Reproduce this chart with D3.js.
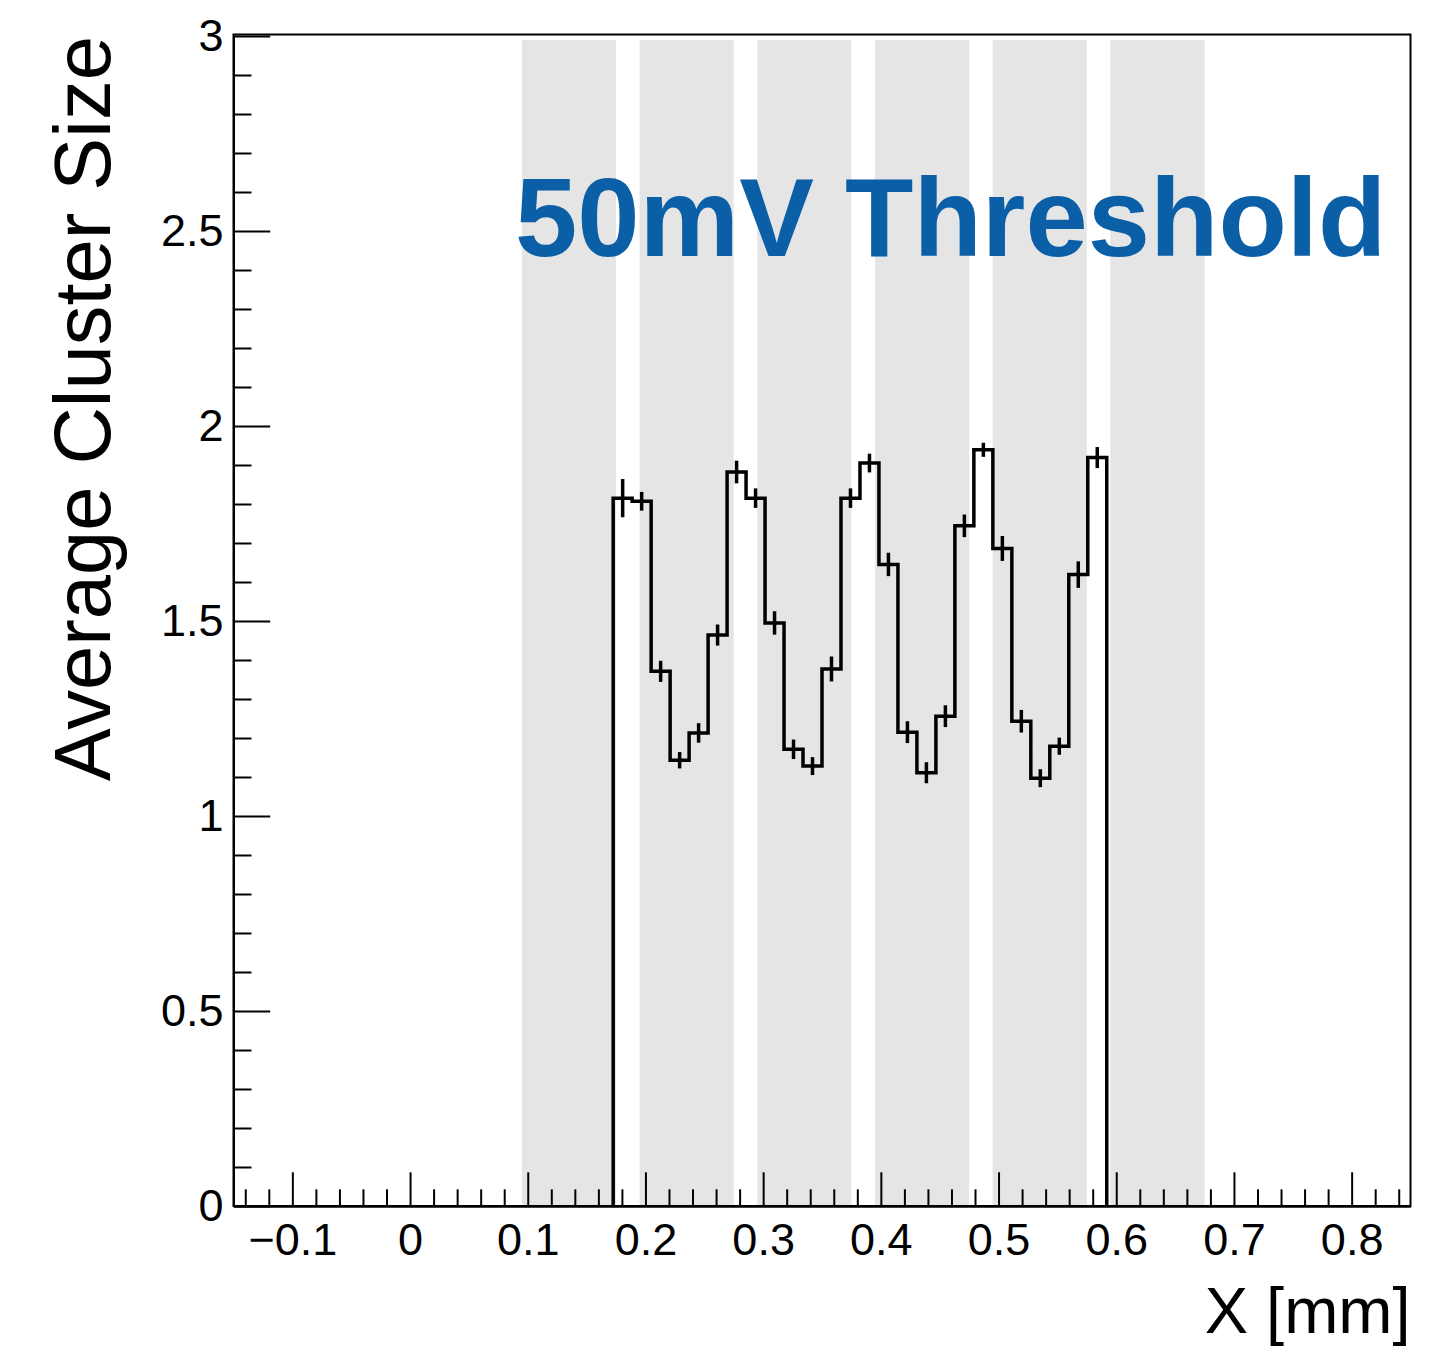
<!DOCTYPE html>
<html lang="en">
<head>
    <meta charset="UTF-8">
    <title>Average Cluster Size vs X</title>
    <script src="https://d3js.org/d3.v7.min.js"></script>
    <style>
        body {
            margin: 0;
            padding: 0;
            background: #ffffff;
            font-family: 'Liberation Sans', Arial, Helvetica, sans-serif;
        }
        .axis text {
            font-family: 'Liberation Sans', Arial, Helvetica, sans-serif;
            font-size: 45px;
            fill: #000;
        }
        .axis path, .axis line {
            stroke: #000;
            stroke-width: 2;
        }
    </style>
</head>
<body>
    <div id="chart"></div>

    <script>
        // histogram binning: 62 bins over the full x range, only bins 20..45 filled
        const xMin = -0.15;
        const xMax = 0.85;
        const nBins = 62;
        const firstBin = 20;

        const clusterSize = [
            1.815, 1.807, 1.371, 1.143, 1.213, 1.464, 1.882, 1.815, 1.495, 1.171,
            1.128, 1.377, 1.815, 1.905, 1.645, 1.215, 1.111, 1.256, 1.744, 1.939,
            1.686, 1.243, 1.097, 1.179, 1.619, 1.919
        ];
        const clusterErr = [
            0.049, 0.024, 0.027, 0.021, 0.025, 0.027, 0.029, 0.025, 0.030, 0.025,
            0.023, 0.032, 0.025, 0.024, 0.030, 0.028, 0.027, 0.028, 0.029, 0.018,
            0.032, 0.029, 0.023, 0.022, 0.034, 0.027
        ];

        // shaded pixel regions
        const bandStarts = [0.095, 0.195, 0.295, 0.395, 0.495, 0.595];
        const bandWidth = 0.08;
        const bandTop = 2.99;

        const xTicks = [-0.1, 0, 0.1, 0.2, 0.3, 0.4, 0.5, 0.6, 0.7, 0.8];
        const yTicks = [0, 0.5, 1, 1.5, 2, 2.5, 3];

        const W = 1454, H = 1347;
        const mLeft = 233.5, mRight = 1410.5, mTop = 36, mBottom = 1206;

        const x = d3.scaleLinear().domain([xMin, xMax]).range([mLeft, mRight]);
        const y = d3.scaleLinear().domain([0, 3]).range([mBottom, mTop]);

        const svg = d3.select("#chart").append("svg")
            .attr("width", W)
            .attr("height", H);

        // gray bands
        svg.append("g").selectAll("rect")
            .data(bandStarts)
            .enter().append("rect")
            .attr("x", d => x(d))
            .attr("width", d => x(d + bandWidth) - x(d))
            .attr("y", y(bandTop))
            .attr("height", y(0) - y(bandTop))
            .attr("fill", "#e5e5e5");

        // frame
        svg.append("rect")
            .attr("x", mLeft)
            .attr("y", mTop - 1.5)
            .attr("width", mRight - mLeft)
            .attr("height", mBottom - mTop + 1.5)
            .attr("fill", "none")
            .attr("stroke", "#000")
            .attr("stroke-width", 2);

        const fmt = d3.format("~g");

        // x axis: major + minor ticks pointing up
        const minorX = d3.range(-0.14, 0.85, 0.02).filter(v => Math.abs(Math.round(v * 10) - v * 10) > 1e-6);
        svg.append("g")
            .attr("class", "axis")
            .attr("transform", `translate(0,${mBottom})`)
            .call(d3.axisBottom(x).tickValues(minorX).tickSize(-16.7).tickSizeOuter(0).tickFormat(""));
        svg.append("g")
            .attr("class", "axis")
            .attr("transform", `translate(0,${mBottom})`)
            .call(d3.axisBottom(x).tickValues(xTicks).tickSize(-33.7).tickSizeOuter(0).tickPadding(17).tickFormat(fmt));

        // y axis
        const minorY = d3.range(0.1, 3, 0.1).filter(v => Math.abs(Math.round(v * 2) - v * 2) > 1e-6);
        svg.append("g")
            .attr("class", "axis")
            .attr("transform", `translate(${mLeft},0)`)
            .call(d3.axisLeft(y).tickValues(minorY).tickSize(-18).tickSizeOuter(0).tickFormat(""));
        svg.append("g")
            .attr("class", "axis")
            .attr("transform", `translate(${mLeft},0)`)
            .call(d3.axisLeft(y).tickValues(yTicks).tickSize(-36.7).tickSizeOuter(0).tickPadding(10).tickFormat(fmt));

        // histogram outline
        const binW = (xMax - xMin) / nBins;
        const bins = clusterSize.map((v, i) => {
            const lo = xMin + (firstBin + i) * binW;
            return {lo: lo, hi: lo + binW, v: v, e: clusterErr[i]};
        });
        const pts = [[bins[0].lo, 0]];
        bins.forEach(b => { pts.push([b.lo, b.v]); pts.push([b.hi, b.v]); });
        pts.push([bins[bins.length - 1].hi, 0]);

        const line = d3.line().x(d => x(d[0])).y(d => y(d[1]));
        svg.append("path")
            .attr("d", line(pts))
            .attr("fill", "none")
            .attr("stroke", "#000")
            .attr("stroke-width", 3.5)
            .attr("stroke-linejoin", "miter");

        // error bars
        svg.append("g").selectAll("line")
            .data(bins)
            .enter().append("line")
            .attr("x1", d => x((d.lo + d.hi) / 2))
            .attr("x2", d => x((d.lo + d.hi) / 2))
            .attr("y1", d => y(d.v - d.e))
            .attr("y2", d => y(d.v + d.e))
            .attr("stroke", "#000")
            .attr("stroke-width", 3.5);

        // axis titles
        svg.append("text")
            .attr("transform", `translate(110,${mTop}) rotate(-90)`)
            .attr("text-anchor", "end")
            .style("font-size", "79.5px")
            .text("Average Cluster Size");

        svg.append("text")
            .attr("x", mRight)
            .attr("y", 1333)
            .attr("text-anchor", "end")
            .style("font-size", "65px")
            .text("X [mm]");

        svg.append("text")
            .attr("x", 515)
            .attr("y", 256)
            .style("font-size", "112px")
            .style("font-weight", "bold")
            .attr("fill", "#0a5fa6")
            .text("50mV Threshold");
    </script>
</body>
</html>
